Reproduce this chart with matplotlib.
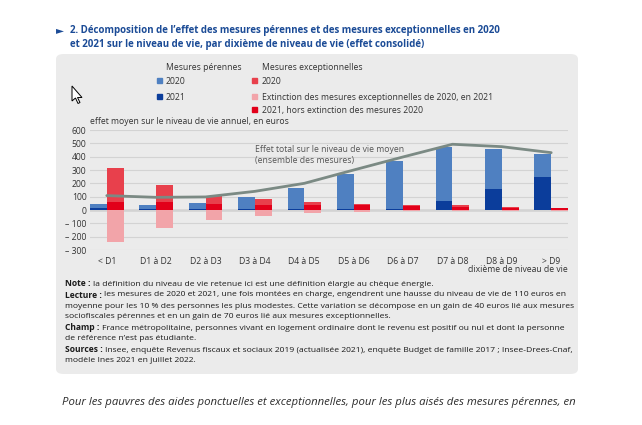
import numpy as np
import matplotlib
matplotlib.use('Agg')
import matplotlib.pyplot as plt
from matplotlib.patches import FancyBboxPatch, Rectangle, Polygon

# données
categories = ['< D1', 'D1 à D2', 'D2 à D3', 'D3 à D4', 'D4 à D5',
              'D5 à D6', 'D6 à D7', 'D7 à D8', 'D8 à D9', '> D9']
perennes_2021 = [15, 8, 8, 5, 5, 8, 8, 67, 157, 248]
perennes_2020 = [33, 30, 47, 95, 160, 259, 362, 403, 303, 172]
exc_2021_hors = [62, 57, 45, 40, 35, 35, 30, 25, 15, 12]
exc_2020 = [250, 131, 60, 40, 23, 13, 7, 12, 5, 5]
exc_extinction = [-242, -133, -73, -43, -20, -17, -10, -10, -5, -4]
effet_total = [108, 95, 98, 140, 200, 300, 398, 493, 475, 430]
yticks = [-300, -200, -100, 0, 100, 200, 300, 400, 500, 600]

leg_perennes = ['2020', '2021']
leg_exc = ['2020', 'Extinction des mesures exceptionnelles de 2020, en 2021',
           '2021, hors extinction des mesures 2020']

notes = [
    ('Note : ', 'la définition du niveau de vie retenue ici est une définition élargie au chèque énergie.'),
    ('Lecture : ', 'les mesures de 2020 et 2021, une fois montées en charge, engendrent une hausse du niveau de vie de 110 euros en'),
    ('', 'moyenne pour les 10 % des personnes les plus modestes. Cette variation se décompose en un gain de 40 euros lié aux mesures'),
    ('', 'sociofiscales pérennes et en un gain de 70 euros lié aux mesures exceptionnelles.'),
    ('Champ : ', 'France métropolitaine, personnes vivant en logement ordinaire dont le revenu est positif ou nul et dont la personne'),
    ('', 'de référence n’est pas étudiante.'),
    ('Sources : ', 'Insee, enquête Revenus fiscaux et sociaux 2019 (actualisée 2021), enquête Budget de famille 2017 ; Insee-Drees-Cnaf,'),
    ('', 'modèle Ines 2021 en juillet 2022.'),
]

# couleurs
bleu_clair = '#4f80c1'
bleu_fonce = '#0b3d9b'
rouge_2020 = '#e8404c'
rouge_2021 = '#e2001a'
rose = '#f2a4a9'
gris_ligne = '#7b8a84'
texte = '#333333'
titre_bleu = '#1b4b96'

W, H = 642, 425


def fx(x):
    return x / W


def fy(y):
    return 1 - y / H


plt.rcParams['font.family'] = ['Open Sans', 'DejaVu Sans']
fig = plt.figure(figsize=(W / 100, H / 100), dpi=100)

# fond gris arrondi
panel = FancyBboxPatch((fx(56), fy(374)), fx(578 - 56), (374 - 54) / H,
                       boxstyle='round,pad=0,rounding_size=0.012',
                       transform=fig.transFigure, fc='#ebebeb', ec='none', zorder=-1)
fig.add_artist(panel)

ax = fig.add_axes([fx(90), fy(250), fx(568 - 90), (250 - 130) / H])
ax.set_facecolor('none')

x = np.arange(len(categories))
w = 0.34
ax.bar(x - w / 2, perennes_2021, w, color=bleu_fonce, zorder=2)
ax.bar(x - w / 2, perennes_2020, w, bottom=perennes_2021, color=bleu_clair, zorder=2)
ax.bar(x + w / 2, exc_2021_hors, w, color=rouge_2021, zorder=2)
ax.bar(x + w / 2, exc_2020, w, bottom=exc_2021_hors, color=rouge_2020, zorder=2)
ax.bar(x + w / 2, exc_extinction, w, color=rose, zorder=2)
ax.plot(x, effet_total, color=gris_ligne, lw=2, zorder=3, solid_capstyle='round')

ax.set_xlim(-w, len(categories) - 1 + w)
ax.set_ylim(-300, 600)
ax.set_yticks(yticks)
ax.set_yticklabels([('– %d' % -v) if v < 0 else str(v) for v in yticks])
ax.set_xticks(x)
ax.set_xticklabels(categories)
ax.tick_params(length=0, labelsize=6.2, labelcolor=texte)
ax.tick_params(axis='y', pad=2.5)
ax.tick_params(axis='x', pad=5)
ax.yaxis.grid(True, color='#d3d3d3', lw=0.8, zorder=0)
ax.axhline(0, color='#8c8c8c', lw=1, zorder=1)
for s in ax.spines.values():
    s.set_visible(False)

# textes du graphique
fig.text(fx(90), fy(122), 'effet moyen sur le niveau de vie annuel, en euros',
         fontsize=6.2, color=texte, va='center')
fig.text(fx(568), fy(269), 'dixième de niveau de vie', fontsize=6.2, color=texte,
         va='center', ha='right')
fig.text(fx(255), fy(149), 'Effet total sur le niveau de vie moyen', fontsize=6.2,
         color='#555555', va='center')
fig.text(fx(255), fy(160), '(ensemble des mesures)', fontsize=6.2,
         color='#555555', va='center')

# légende
fig.text(fx(166), fy(68), 'Mesures pérennes', fontsize=6.2, color=texte, va='center')
fig.text(fx(262), fy(68), 'Mesures exceptionnelles', fontsize=6.2, color=texte, va='center')
rows = [81, 97, 110]
for lab, col, yy in zip(leg_perennes, [bleu_clair, bleu_fonce], rows):
    fig.add_artist(Rectangle((fx(157), fy(yy + 2)), fx(4.5), 4.5 / H, color=col,
                             transform=fig.transFigure))
    fig.text(fx(166), fy(yy), lab, fontsize=6.2, color=texte, va='center')
for lab, col, yy in zip(leg_exc, [rouge_2020, rose, rouge_2021], rows):
    fig.add_artist(Rectangle((fx(252), fy(yy + 2)), fx(4.5), 4.5 / H, color=col,
                             transform=fig.transFigure))
    fig.text(fx(262), fy(yy), lab, fontsize=6.2, color=texte, va='center')

# titre
fig.text(fx(56), fy(30), '►', fontsize=7.5, color=titre_bleu, va='center',
         family='DejaVu Sans')
fig.text(fx(70), fy(30), '2. Décomposition de l’effet des mesures pérennes et des mesures exceptionnelles en 2020',
         fontsize=7.0, color=titre_bleu, fontweight='bold', va='center')
fig.text(fx(70), fy(44), 'et 2021 sur le niveau de vie, par dixième de niveau de vie (effet consolidé)',
         fontsize=7.0, color=titre_bleu, fontweight='bold', va='center')

# notes
renderer = fig.canvas.get_renderer()
y0 = 284
for i, (gras, reste) in enumerate(notes):
    yy = y0 + i * 11
    x1 = fx(65)
    if gras:
        t = fig.text(fx(65), fy(yy), gras, fontsize=6.1, color='#1a1a1a',
                     fontweight='bold', va='center')
        bb = t.get_window_extent(renderer=renderer)
        x1 = bb.x1 / W
    fig.text(x1, fy(yy), reste, fontsize=6.1, color='#1a1a1a', va='center')

# texte de l'article sous le cadre
fig.text(fx(319), fy(402), 'Pour les pauvres des aides ponctuelles et exceptionnelles, pour les plus aisés des mesures pérennes, en',
         fontsize=8.2, color='#2b2b2b', style='italic', ha='center', va='center')

# pointeur de souris
pts = [(72, 86), (72, 101), (75.5, 98), (78, 103.5), (80, 102.5), (77.5, 97.5), (82, 97.5)]
fig.add_artist(Polygon([(fx(a), fy(b)) for a, b in pts], closed=True, fc='white',
                       ec='black', lw=0.7, transform=fig.transFigure))

fig.savefig('out.png', dpi=100, facecolor='white')
